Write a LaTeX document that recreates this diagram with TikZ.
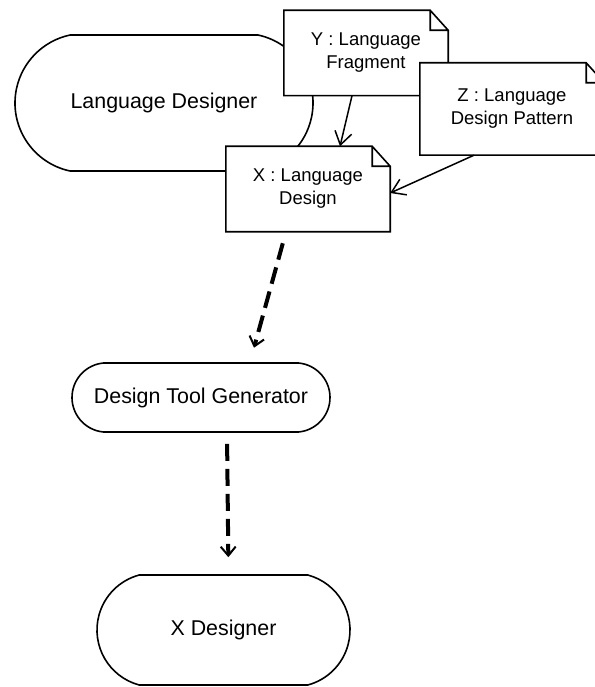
\documentclass[tikz,border=0pt]{standalone}
\usepackage{fontspec}
\setmainfont{Liberation Sans}
\usetikzlibrary{shapes.misc,arrows.meta,positioning}
\newcommand{\ucfont}{\fontsize{21.4}{26}\selectfont}
\newcommand{\notetextfont}{\fontsize{18.5}{23}\selectfont}

\begin{document}
\begin{tikzpicture}[
  x=1pt, y=-1pt,
  usecase/.style={draw, rounded rectangle, line width=1.6pt, fill=white,
                  font=\ucfont, inner sep=0pt},
  note/.style={inner sep=0pt, minimum width=164pt,
               minimum height=85pt, align=center, font=\notetextfont,
               append after command={\pgfextra{\pgfinterruptpath
                 \draw[line width=1.6pt, fill=white]
                   (\tikzlastnode.north west) -- ([xshift=-18pt]\tikzlastnode.north east)
                   -- ([yshift=-20pt]\tikzlastnode.north east) -- (\tikzlastnode.south east)
                   -- (\tikzlastnode.south west) -- cycle
                   ([xshift=-18pt]\tikzlastnode.north east) |- ([yshift=-20pt]\tikzlastnode.north east);
               \endpgfinterruptpath}}},
  dep/.style={-{Straight Barb[length=13pt,width=17pt]}, line width=1.5pt},
  flow/.style={-{Straight Barb[length=9pt,width=15pt,line width=2pt 0]},
               line width=4pt, dash pattern=on 17pt off 8pt}
]
\useasboundingbox (0,0) rectangle (594,687);
\node[usecase, minimum width=298pt, minimum height=136pt,
      rounded rectangle arc length=156] (lang) at (164,103) {Language Designer};
\node[note] (frag) at (366,53) {Y : Language\\Fragment};
\node[note, minimum width=184pt, minimum height=92pt] (pattern) at (512,109) {Z : Language\\Design Pattern};
\node[note] (design) at (308,189) {X : Language\\Design};
\node[usecase, minimum width=258pt, minimum height=69pt,
      rounded rectangle arc length=170] (gen) at (201,397.5) {Design Tool Generator};
\node[usecase, minimum width=253pt, minimum height=110pt,
      rounded rectangle arc length=150] (xdes) at (223.5,630) {X Designer};

\draw[dep] ([xshift=-14pt]frag.south) -- ([xshift=32pt]design.north);
\draw[dep] ([xshift=-38pt]pattern.south) -- ([yshift=-4pt]design.east);
\draw[flow, shorten <=12pt, shorten >=15pt] ([xshift=-22pt]design.south) -- ([xshift=49pt]gen.north);
\draw[flow, shorten <=11pt, shorten >=17pt] ([xshift=26pt]gen.south) -- ([xshift=5pt]xdes.north);
\end{tikzpicture}
\end{document}
